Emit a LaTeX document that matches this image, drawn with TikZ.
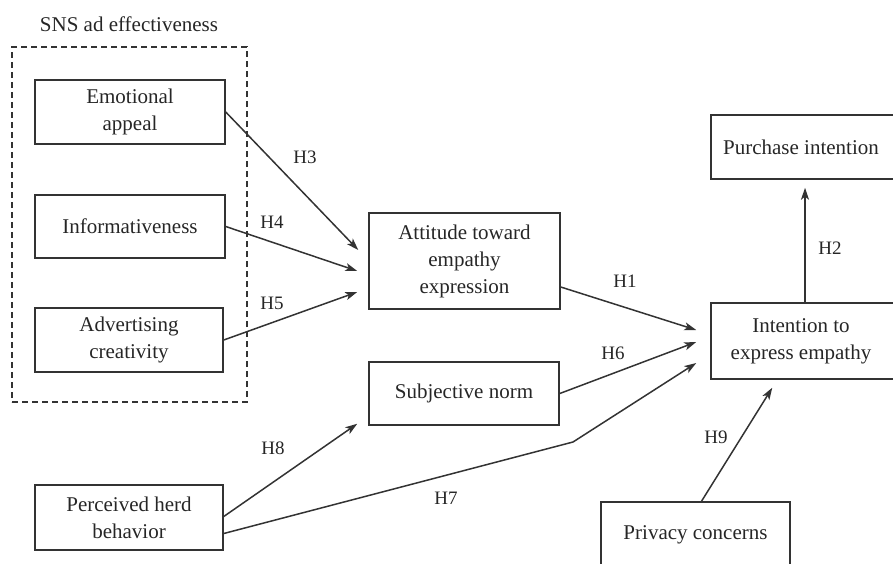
\documentclass[tikz,border=0pt]{standalone}
\usepackage{fontspec}
\setmainfont{Liberation Serif}
\usetikzlibrary{arrows.meta, positioning}

\begin{document}
\begin{tikzpicture}[
  x=1pt, y=-1pt,
  box/.style={rectangle, draw=black!80, line width=1.5pt, align=center,
    text=black!85, font=\fontsize{21}{27}\selectfont, inner sep=0pt},
  group/.style={rectangle, draw=black!80, line width=1.5pt,
    dash pattern=on 6pt off 4pt, inner sep=0pt},
  hyp/.style={-{Stealth[length=12pt, width=8pt, inset=3pt]}, line width=1.5pt, draw=black!80},
  hlab/.style={text=black!85, font=\fontsize{19}{23}\selectfont, inner sep=0pt}
]
\clip (0,0) rectangle (893,563);

% SNS ad effectiveness group
\node[text=black!85, font=\fontsize{21}{27}\selectfont] (title) at (129,24) {SNS ad effectiveness};
\node[group, minimum width=235pt, minimum height=355pt] (sns) at (129.5,224.5) {};
\node[box, minimum width=190pt, minimum height=64pt] (emo) at (130,112) {Emotional\\appeal};
\node[box, minimum width=190pt, minimum height=63pt] (info) at (130,226.5) {Informativeness};
\node[box, minimum width=188pt, minimum height=64pt] (adv) at (129,340) {Advertising\\creativity};

% middle
\node[box, minimum width=191pt, minimum height=96pt] (att) at (464.5,261) {Attitude toward\\empathy\\expression};
\node[box, minimum width=190pt, minimum height=63pt] (subj) at (464,393.5) {Subjective norm};
\node[box, minimum width=188pt, minimum height=65pt] (herd) at (129,517.5) {Perceived herd\\behavior};

% right
\node[box, minimum width=188pt, minimum height=76pt] (inten) at (805,341) {\hspace*{-8pt}Intention to\\\hspace*{-8pt}express empathy};
\node[box, minimum width=188pt, minimum height=64pt] (purch) at (805,147) {\hspace*{-8pt}Purchase intention};
\node[box, minimum width=189pt, minimum height=66pt] (priv) at (695.5,535) {Privacy concerns};
\coordinate (bend) at (573,442);

\draw[hyp] (emo.east) -- ([xshift=-10pt, yshift=11pt]att.west);
\draw[hyp] (info.east) -- ([xshift=-11pt, yshift=-10pt]att.west);
\draw[hyp] (adv.east) -- ([xshift=-11pt, yshift=-31pt]att.west);
\draw[hyp] ([yshift=-26pt]att.east) -- ([xshift=-14pt, yshift=11pt]inten.west);
\draw[hyp] (subj.east) -- ([xshift=-14pt, yshift=-1pt]inten.west);
\draw[hyp] ([yshift=-16pt]herd.east) -- (bend) -- ([xshift=-14pt, yshift=-22pt]inten.west);
\draw[hyp] ([yshift=1pt]herd.east) -- ([xshift=-11pt, yshift=2pt]subj.south west);
\draw[hyp] ([xshift=6pt]priv.north) -- ([xshift=62pt, yshift=-8pt]inten.south west);
\draw[hyp] (inten.north) -- ([yshift=-8pt]purch.south);

\node[hlab] (h1) at (625,281) {H1};
\node[hlab] (h2) at (830,248) {H2};
\node[hlab] (h3) at (305,157) {H3};
\node[hlab] (h4) at (272,222) {H4};
\node[hlab] (h5) at (272,303) {H5};
\node[hlab] (h6) at (613,353) {H6};
\node[hlab] (h7) at (446,498) {H7};
\node[hlab] (h8) at (273,448) {H8};
\node[hlab] (h9) at (716,437) {H9};
\end{tikzpicture}
\end{document}
